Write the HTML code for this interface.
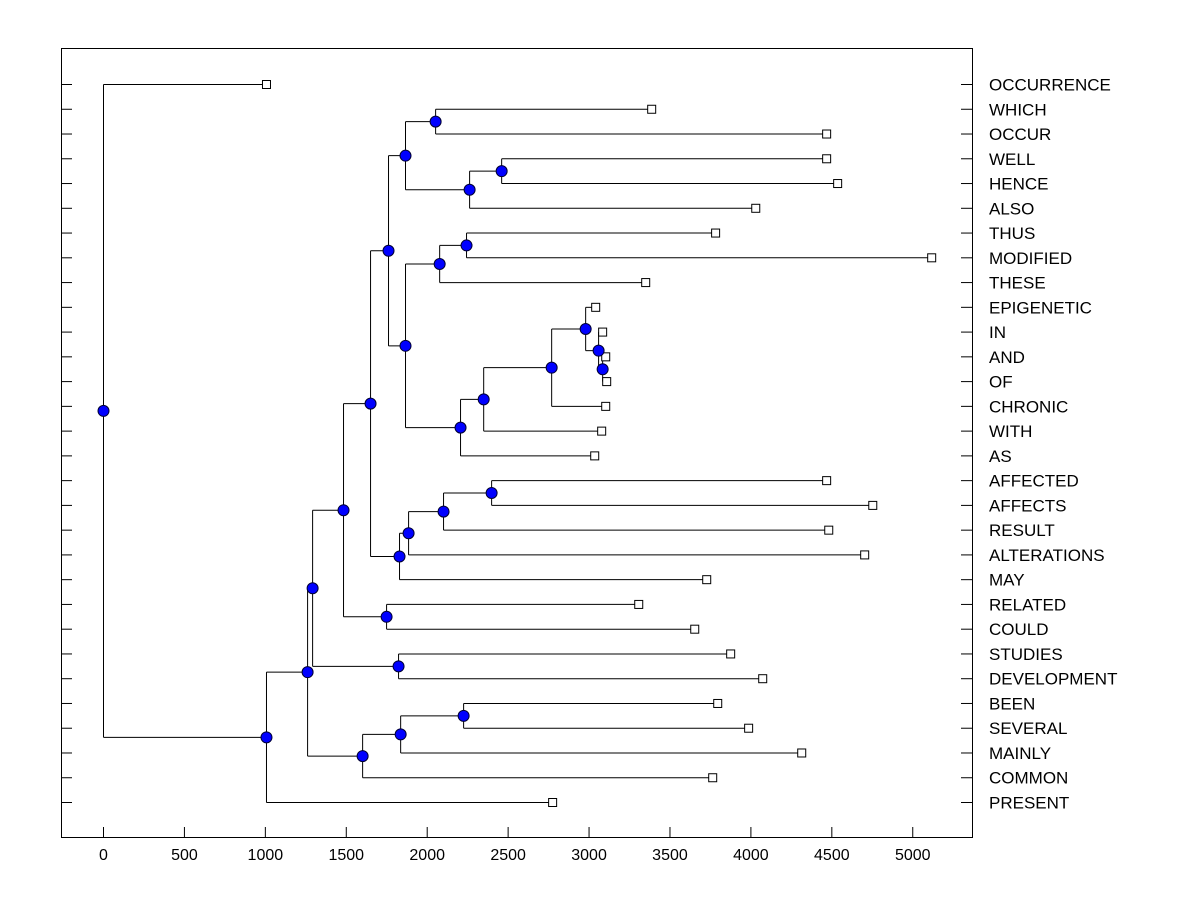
<!DOCTYPE html>
<html><head><meta charset="utf-8"><style>
body{margin:0;background:#fff}
svg text{font-family:"Liberation Sans",Arial,sans-serif;fill:#000}
</style></head><body>
<svg id="chart" width="1200" height="900" viewBox="0 0 1200 900" xmlns="http://www.w3.org/2000/svg">
<rect x="0" y="0" width="1200" height="900" fill="#fff"/>
<rect x="61.5" y="48.5" width="911" height="789" fill="none" stroke="#000" stroke-width="1"/>
<g id="g"></g>
</svg>
<script>
const leafNames=["OCCURRENCE","WHICH","OCCUR","WELL","HENCE","ALSO","THUS","MODIFIED","THESE","EPIGENETIC","IN","AND","OF","CHRONIC","WITH","AS","AFFECTED","AFFECTS","RESULT","ALTERATIONS","MAY","RELATED","COULD","STUDIES","DEVELOPMENT","BEEN","SEVERAL","MAINLY","COMMON","PRESENT"];
const leafHeights=[1007,3387,4468,4468,4536,4030,3782,5117,3350,3041,3084,3103,3109,3103,3078,3035,4468,4753,4481,4703,3727,3307,3653,3875,4073,3795,3986,4314,3764,2775];
const nodeIds=["root","n1","n2","n3","n4","n5","n6","n7","nWO","nWHA","nWH","n8","nTMT","nTM","nEpi","nC","nC2","nC3","nC4","nC5","nAff","nA2","nA3","nA4","nRC","nSD","nBot","nB2","nB3"];
const nodeHeights=[0,1007,1261,1292,1483,1650,1761,1866,2052,2262,2460,1866,2077,2243,2206,2349,2769,2979,3059,3084,1829,1885,2101,2398,1749,1823,1601,1836,2225];
const nodeLeft=["L:OCCURRENCE","N:n2","N:n3","N:n4","N:n5","N:n6","N:n7","N:nWO","L:WHICH","N:nWH","L:WELL","N:nTMT","N:nTM","L:THUS","N:nC","N:nC2","N:nC3","L:EPIGENETIC","L:IN","L:AND","N:nA2","N:nA3","N:nA4","L:AFFECTED","L:RELATED","L:STUDIES","N:nB2","N:nB3","L:BEEN"];
const nodeRight=["N:n1","L:PRESENT","N:nBot","N:nSD","N:nRC","N:nAff","N:n8","N:nWHA","L:OCCUR","L:ALSO","L:HENCE","N:nEpi","L:THESE","L:MODIFIED","L:AS","L:WITH","L:CHRONIC","N:nC4","N:nC5","L:OF","L:MAY","L:ALTERATIONS","L:RESULT","L:AFFECTS","L:COULD","L:DEVELOPMENT","L:COMMON","L:MAINLY","L:SEVERAL"];
const xTicks=[0,500,1000,1500,2000,2500,3000,3500,4000,4500,5000];

const NS="http://www.w3.org/2000/svg";
const g=document.getElementById('g');
const xs=v=>103.5+v*0.16185;
const ys=i=>84.5+i*(802.5-84.5)/29;
function mk(t,a){const e=document.createElementNS(NS,t);for(const k in a)e.setAttribute(k,a[k]);g.appendChild(e);return e;}

xTicks.forEach(v=>{
  const l=mk('line',{x1:xs(v),x2:xs(v),y1:827,y2:837,stroke:'#000'});
  
  
  const t=mk('text',{x:xs(v),y:860,'text-anchor':'middle','font-size':'16'});
  t.textContent=v;
  
  
});
leafNames.forEach((n,i)=>{
  const y=ys(i);
  const a=mk('line',{x1:61,x2:72,y1:y,y2:y,stroke:'#000'});
  
  
  const b=mk('line',{x1:961,x2:973,y1:y,y2:y,stroke:'#000'});
  
  
  const t=mk('text',{x:989,y:y+6,'font-size':'17'});
  t.textContent=n;
  
  
});

function pos(ref){
  const [k,id]=ref.split(':');
  if(k==='L'){const i=leafNames.indexOf(id);return {x:xs(leafHeights[i]),y:ys(i)};}
  const j=nodeIds.indexOf(id);
  const a=pos(nodeLeft[j]),b=pos(nodeRight[j]);
  return {x:xs(nodeHeights[j]),y:(a.y+b.y)/2,a,b};
}
const circles=[];
nodeIds.forEach((id,j)=>{
  const p=pos('N:'+id);
  const v=mk('line',{x1:p.x,x2:p.x,y1:p.a.y,y2:p.b.y,stroke:'#000'});
  
  
  [p.a,p.b].forEach(c=>{
    const h=mk('line',{x1:p.x,x2:c.x,y1:c.y,y2:c.y,stroke:'#000'});
    
    
  });
  circles.push(p);
});
leafNames.forEach((n,i)=>{
  const s=mk('rect',{x:xs(leafHeights[i])-4,y:ys(i)-4,width:8,height:8,fill:'#fff',stroke:'#000'});
  
  
});
circles.forEach(p=>{
  const c=mk('circle',{cx:p.x,cy:p.y,r:5.5,fill:'#0000ff',stroke:'#000033','stroke-width':1});
  
  
});
</script>
</body></html>
